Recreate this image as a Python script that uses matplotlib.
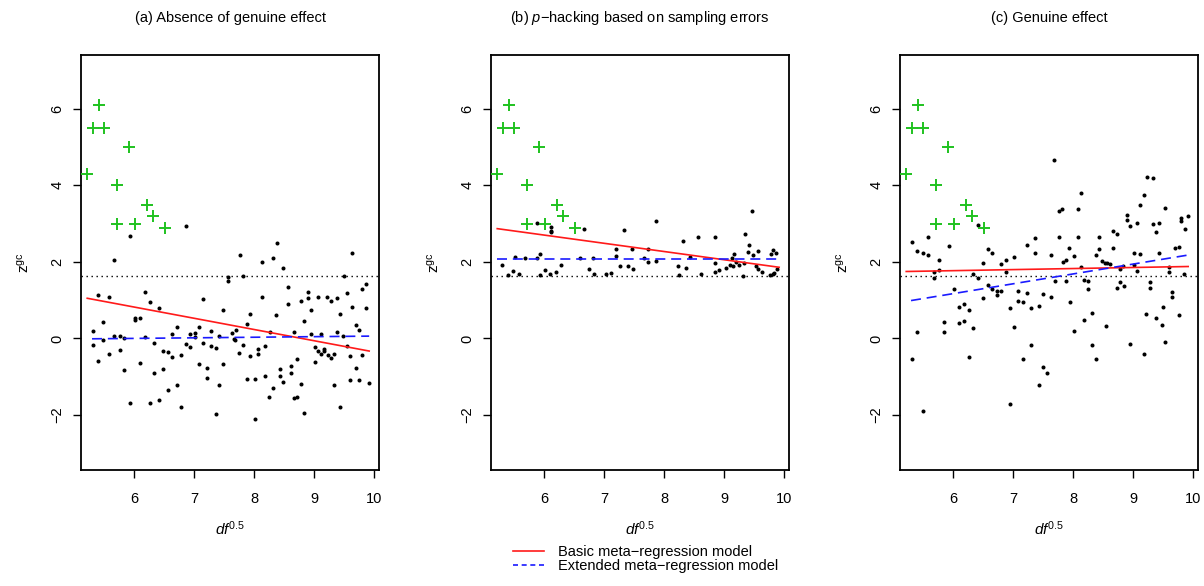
import matplotlib
matplotlib.use('Agg')
import matplotlib.pyplot as plt
from matplotlib.lines import Line2D
import numpy as np

plt.rcParams['font.family'] = ['Liberation Sans', 'DejaVu Sans']
plt.rcParams['mathtext.fontset'] = 'custom'
plt.rcParams['mathtext.rm'] = 'Liberation Sans'
plt.rcParams['mathtext.it'] = 'Liberation Sans:italic'

# Studies flagged as outliers (same in every panel)
cross_x = [5.22, 5.41, 5.31, 5.50, 5.92, 5.71, 5.71, 6.01, 6.21, 6.32, 6.51]
cross_y = [4.30, 6.10, 5.50, 5.50, 5.00, 4.00, 3.00, 3.00, 3.50, 3.20, 2.90]

# (a) absence of genuine effect
a_x = [6.87, 5.93, 5.67, 7.56, 7.56, 5.40, 5.58, 6.18, 6.26, 6.41, 7.15, 7.49,
       6.01, 6.01, 6.10, 5.48, 5.31, 6.72, 7.08, 7.29, 6.64, 6.93, 7.01, 5.67,
       5.76, 5.84, 6.18, 5.49, 5.31, 6.33, 6.87, 6.93, 7.01, 7.15, 7.29, 7.36,
       7.42, 5.76, 5.58, 6.49, 6.57, 6.64, 6.79, 5.40, 6.10, 7.08, 7.49, 7.22,
       5.84, 6.49, 6.33, 7.22, 6.72, 7.42, 6.57, 5.93, 6.26, 6.41, 6.79, 7.36,
       8.38, 7.76, 8.13, 8.31, 8.49, 9.64, 7.81, 9.50, 8.56, 9.86, 9.80, 8.90,
       8.90, 8.79, 9.06, 9.22, 9.28, 9.39, 9.55, 8.13, 8.56, 8.95, 9.64, 9.86,
       9.44, 7.94, 8.37, 8.84, 7.88, 9.70, 9.75, 7.70, 7.63, 7.66, 7.69, 8.26,
       8.67, 8.95, 9.12, 9.39, 9.49, 7.82, 7.75, 8.07, 8.19, 8.07, 7.94, 9.01,
       9.06, 9.12, 9.17, 9.17, 9.23, 9.28, 9.34, 9.55, 9.60, 9.80, 8.72, 9.01,
       8.61, 8.43, 8.61, 9.70, 8.19, 8.43, 7.88, 8.01, 8.49, 8.78, 9.33, 9.60,
       9.75, 9.91, 8.31, 8.25, 8.66, 8.72, 8.84, 9.44, 8.01]
a_y = [2.94, 2.68, 2.04, 1.60, 1.50, 1.13, 1.09, 1.21, 0.96, 0.79, 1.04, 0.75,
       0.53, 0.47, 0.53, 0.42, 0.20, 0.31, 0.31, 0.20, 0.12, 0.12, 0.14, 0.07,
       0.06, 0.00, 0.03, -0.04, -0.17, -0.13, -0.14, -0.23, 0.05, -0.13, -0.20, -0.25,
       0.07, -0.29, -0.42, -0.32, -0.35, -0.49, -0.44, -0.58, -0.64, -0.67, -0.67, -0.77,
       -0.82, -0.79, -0.90, -1.03, -1.21, -1.21, -1.36, -1.69, -1.69, -1.60, -1.79, -1.98,
       2.50, 2.18, 2.01, 2.09, 1.85, 2.24, 1.62, 1.62, 1.34, 1.42, 1.29, 1.22,
       1.05, 0.99, 1.09, 1.09, 0.97, 1.05, 1.19, 1.08, 0.90, 0.75, 0.81, 0.79,
       0.63, 0.64, 0.60, 0.45, 0.39, 0.36, 0.21, 0.23, 0.13, -0.02, -0.04, 0.17,
       0.16, 0.12, 0.12, 0.16, 0.07, -0.17, -0.38, -0.27, -0.21, -0.42, -0.46, -0.23,
       -0.33, -0.42, -0.27, -0.33, -0.44, -0.50, -0.41, -0.20, -0.47, -0.44, -0.53, -0.61,
       -0.72, -0.81, -0.90, -0.77, -0.98, -0.98, -1.07, -1.05, -1.14, -1.20, -1.22, -1.09,
       -1.08, -1.17, -1.29, -1.52, -1.57, -1.52, -1.94, -1.79, -2.11]

# (b) p-hacking based on sampling errors
b_x = [5.88, 6.11, 6.11, 6.11, 6.67, 7.33, 7.47, 7.20, 7.20, 5.30, 5.51, 5.68,
       5.94, 5.88, 6.02, 6.28, 6.60, 6.82, 5.40, 5.49, 5.59, 5.94, 6.10, 6.20,
       6.75, 6.83, 7.04, 7.11, 7.27, 7.40, 7.48, 7.87, 8.31, 8.56, 8.85, 9.35,
       9.42, 9.48, 9.40, 9.57, 9.82, 9.87, 9.78, 7.73, 7.67, 7.74, 7.86, 8.24,
       8.37, 8.25, 8.62, 8.43, 8.85, 8.85, 8.91, 9.03, 9.10, 9.14, 9.17, 9.20,
       9.15, 9.25, 9.33, 9.31, 9.53, 9.57, 9.64, 9.76, 9.81, 9.88, 9.84, 9.46]
b_y = [3.03, 2.91, 2.82, 2.78, 2.85, 2.84, 2.34, 2.34, 2.16, 1.91, 2.12, 2.10,
       2.21, 2.09, 1.79, 1.93, 2.10, 2.10, 1.66, 1.75, 1.68, 1.66, 1.68, 1.73,
       1.82, 1.68, 1.68, 1.72, 1.90, 1.90, 1.81, 3.07, 2.55, 2.65, 2.65, 2.72,
       2.44, 2.18, 2.27, 2.29, 2.31, 2.24, 2.21, 2.34, 2.10, 2.01, 2.03, 1.90,
       1.85, 1.65, 1.68, 2.13, 1.97, 1.73, 1.79, 1.83, 1.92, 2.11, 2.20, 2.01,
       1.90, 1.92, 1.98, 1.63, 1.90, 1.81, 1.73, 1.65, 1.69, 1.82, 1.70, 3.32]

# (c) genuine effect
c_x = [6.42, 5.32, 5.59, 5.94, 5.40, 5.50, 5.59, 5.77, 6.58, 6.65, 6.50, 6.80,
       6.88, 7.02, 7.23, 7.37, 7.37, 5.68, 5.68, 5.77, 6.33, 6.42, 6.88, 6.02,
       6.58, 6.65, 6.73, 6.73, 6.80, 6.50, 7.09, 7.09, 7.16, 7.23, 7.50, 6.19,
       6.10, 6.26, 6.95, 7.30, 7.43, 5.85, 6.10, 6.19, 5.85, 5.40, 6.34, 7.02,
       7.30, 5.32, 6.26, 7.16, 7.50, 7.56, 7.43, 6.95, 5.50,
       7.69, 9.23, 9.34, 8.13, 9.18, 7.76, 7.82, 8.08, 9.12, 9.54, 8.90, 8.90,
       8.95, 9.06, 9.34, 9.44, 9.39, 9.80, 9.91, 9.80, 9.86, 7.76, 8.08, 8.44,
       8.67, 8.73, 7.94, 8.44, 8.67, 9.01, 9.12, 9.44, 9.70, 9.76, 7.64, 8.02,
       8.39, 7.83, 7.89, 8.13, 8.49, 8.53, 8.57, 8.61, 8.84, 8.78, 9.01, 9.06,
       9.60, 9.60, 9.85, 7.70, 7.89, 8.19, 8.25, 8.78, 8.85, 9.28, 8.25, 8.73,
       9.28, 7.63, 7.95, 9.65, 9.65, 8.32, 9.50, 8.19, 8.55, 9.22, 9.39, 9.49,
       9.76, 8.02, 8.32, 8.95, 9.54, 8.38, 9.18]
c_y = [2.97, 2.52, 2.64, 2.42, 2.29, 2.23, 2.18, 2.05, 2.34, 2.23, 1.97, 1.94,
       2.05, 2.14, 2.44, 2.62, 2.23, 1.73, 1.57, 1.79, 1.68, 1.57, 1.73, 1.29,
       1.40, 1.29, 1.24, 1.14, 1.24, 1.05, 1.25, 0.98, 0.95, 1.20, 1.16, 0.89,
       0.82, 0.75, 0.79, 0.79, 0.86, 0.42, 0.40, 0.46, 0.18, 0.16, 0.27, 0.29,
       -0.16, -0.54, -0.49, -0.55, -0.75, -0.90, -1.22, -1.72, -1.89,
       4.67, 4.23, 4.20, 3.79, 3.74, 3.32, 3.39, 3.38, 3.49, 3.42, 3.23, 3.10,
       2.95, 3.01, 2.99, 3.03, 2.77, 3.14, 3.20, 3.06, 2.85, 2.65, 2.65, 2.65,
       2.81, 2.72, 2.37, 2.33, 2.37, 2.24, 2.21, 2.23, 2.37, 2.38, 2.18, 2.16,
       2.18, 2.01, 2.05, 1.88, 2.03, 1.98, 1.97, 1.94, 1.90, 1.81, 1.92, 1.76,
       1.86, 1.73, 1.68, 1.49, 1.49, 1.53, 1.50, 1.47, 1.37, 1.47, 1.29, 1.31,
       1.31, 1.08, 0.96, 1.22, 1.08, 0.67, 0.83, 0.48, 0.33, 0.64, 0.54, 0.35,
       0.60, 0.20, -0.16, -0.14, -0.10, -0.55, -0.42]

# fitted lines: x range and y at both ends
line_x = [5.22, 9.92]
basic_y = [[1.05, -0.33], [2.87, 1.86], [1.75, 1.88]]
ext_x = [[5.30, 9.92], [5.22, 9.92], [5.30, 9.92]]
ext_y = [[-0.01, 0.06], [2.08, 2.08], [0.99, 2.18]]

z_crit = 1.645
titles = ['(a) Absence of genuine effect',
          '(b) $p$\u2212hacking based on sampling errors',
          '(c) Genuine effect']
points = [(a_x, a_y), (b_x, b_y), (c_x, c_y)]

RED = '#ff1a1a'
BLUE = '#1a1aff'
GREEN = '#1fc21f'

fig = plt.figure(figsize=(12.04, 5.86), dpi=100)
lefts = [81 / 1204, 491 / 1204, 900 / 1204]
for i, left in enumerate(lefts):
    ax = fig.add_axes([left, 116 / 586, 298 / 1204, 415 / 586])
    px, py = points[i]
    ax.plot(px, py, 'o', color='black', ms=2.9, mew=0, zorder=3)
    ax.plot(cross_x, cross_y, '+', color=GREEN, ms=8, mew=1.4, zorder=3)
    ax.axhline(z_crit, color='black', lw=1.0, linestyle=(0, (1, 2.6)), zorder=2)
    ax.plot(line_x, basic_y[i], color=RED, lw=1.2, zorder=4)
    ax.plot(ext_x[i], ext_y[i], color=BLUE, lw=1.2, dashes=(6, 3.5), zorder=4)

    ax.set_xlim(5.116, 10.084)
    ax.set_ylim(-3.44, 7.41)
    ax.set_xticks([6, 7, 8, 9, 10])
    ax.set_yticks([-2, 0, 2, 4, 6])
    ax.tick_params(direction='out', length=6, width=1.0, labelsize=10.5, pad=10)
    ax.tick_params(axis='y', labelrotation=90, pad=6)
    for lbl in ax.get_yticklabels():
        lbl.set_va('center')
    for sp in ax.spines.values():
        sp.set_linewidth(1.3)
    ax.set_title(titles[i], fontsize=10.5, pad=24)
    ax.set_ylabel(r'$\mathregular{z^{gc}}$', fontsize=11)
    ax.yaxis.set_label_coords(-0.165, 0.5)
    ax.set_xlabel(r'$\mathit{df}^{\mathregular{0.5}}$', fontsize=11)
    ax.xaxis.set_label_coords(0.5, -0.118)

handles = [Line2D([], [], color=RED, lw=1.2),
           Line2D([], [], color=BLUE, lw=1.2, dashes=(3, 2.2))]
fig.legend(handles, ['Basic meta\u2212regression model',
                     'Extended meta\u2212regression model'],
           loc='upper left', bbox_to_anchor=(513 / 1204, 1 - 545 / 586),
           frameon=False, fontsize=10.5, handlelength=2.1, handletextpad=1.0,
           labelspacing=0.0, borderpad=0, borderaxespad=0)

fig.savefig('out.png', dpi=100, facecolor='white')
